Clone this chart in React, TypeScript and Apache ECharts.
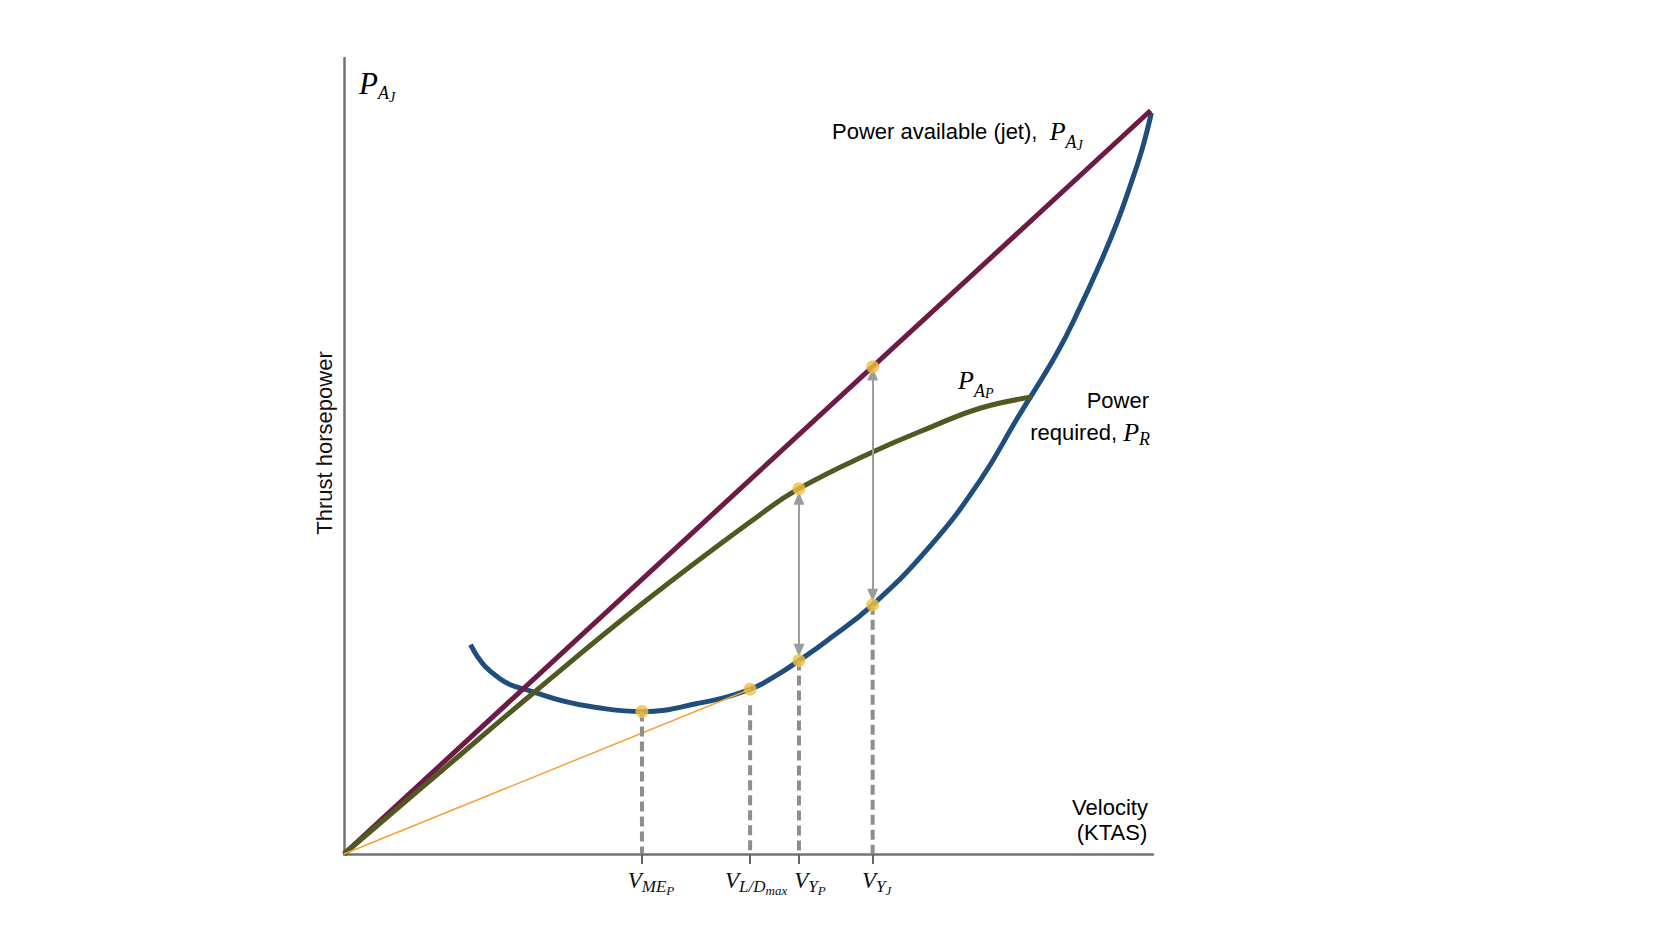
import React, { useEffect, useRef } from 'react';
import * as echarts from 'echarts';

const SERIF = '"Liberation Serif", "Times New Roman", serif';
const SANS = '"Liberation Sans", Arial, Helvetica, sans-serif';
const INK = '#111111';

// Velocity (x) and thrust horsepower (y), relative units
const powerAvailableJet: number[][] = [[0, 0], [100.7, 93.4]];
const powerAvailableProp: number[][] = [
  [0, 0], [12, 10.3], [23.6, 20.2], [37.8, 31.9], [51.9, 42.6],
  [56.8, 45.9], [66.0, 50.5], [73.2, 53.6], [79.4, 56.0], [85.9, 57.4],
];
const powerRequired: number[][] = [
  [15.8, 26.3], [16.6, 24.9], [17.6, 23.6], [19.1, 22.3], [20.7, 21.3],
  [23.2, 20.5], [27.4, 19.2], [31.5, 18.4], [37.2, 17.9], [44.1, 18.9],
  [50.7, 20.7], [54.4, 22.7], [56.8, 24.3], [60.3, 26.8], [66.0, 31.3],
  [73.2, 38.7], [79.4, 46.9], [84.1, 54.8], [89.0, 62.9], [91.9, 68.7],
  [94.4, 74.2], [96.5, 79.3], [98.1, 83.8], [99.6, 88.4], [100.8, 93.1],
];
const tangentLine: number[][] = [[0, 0], [50.7, 20.7]];
const keySpeeds: number[] = [37.2, 50.7, 56.8, 66.0];
const keySpeedLabels: string[] = [
  '{v0|V}{s1|ME}{s2|P}',
  '{v1|V}{s1|L/D}{s2|max}',
  '{v2|V}{s1|Y}{s2|P}',
  '{v3|V}{s1|Y}{s2|J}',
];
const dashTops: number[] = [17.9, 18.7, 24.3, 31.3];
const markedPoints: number[][] = [
  [37.2, 17.9], [50.7, 20.7], [56.8, 24.3], [56.8, 45.9], [66.0, 31.3], [66.0, 61.2],
];
// [x, top tip, bottom tip]
const arrowSpans: number[][] = [[56.8, 44.7, 25.6], [66.0, 60.3, 32.5]];

function tok(size: number, baseline: number, family: string = SERIF, italic = true, padLeft = 0) {
  const central = family === SERIF ? 0.3375 : 0.3465;
  const pad = baseline - (central * size + size / 2);
  return {
    fontSize: size,
    lineHeight: size,
    fontFamily: family,
    fontStyle: italic ? 'italic' : 'normal',
    color: INK,
    verticalAlign: 'top',
    padding: [Math.max(0, pad), 0, 0, padLeft],
  };
}

function textEl(x: number, y: number, text: string, rich: any, align: string, rotation = 0) {
  return {
    type: 'text',
    x,
    y,
    rotation,
    silent: true,
    style: {
      text,
      rich,
      align,
      textAlign: align,
      verticalAlign: 'top',
      textVerticalAlign: 'top',
    },
  };
}

export default function App() {
  const ref = useRef<HTMLDivElement>(null);

  useEffect(() => {
    if (!ref.current) return;
    const chart = echarts.init(ref.current, null, { renderer: 'svg' });

    const tickRich = {
      v0: tok(23, 18.8, SERIF, true, 18),
      v1: tok(23, 18.8, SERIF, true, 12),
      v2: tok(23, 18.8, SERIF, true, 22),
      v3: tok(23, 18.8, SERIF, true, 8),
      s1: tok(17, 23.5),
      s2: tok(13, 25.5),
    };

    const axisLineStyle = { color: '#727272', width: 2.5 };

    const dashedSeries = keySpeeds.map((x, i) => ({
      type: 'line',
      data: [[x, dashTops[i]], [x, 0]],
      symbol: 'none',
      clip: false,
      z: 3,
      lineStyle: { color: '#8e8e8e', width: 4, type: [10, 5] },
      silent: true,
    }));

    const option: any = {
      animation: false,
      backgroundColor: '#ffffff',
      grid: { left: 344, right: 506, top: 58, bottom: 79 },
      xAxis: {
        type: 'value',
        min: 0,
        max: 101,
        axisLine: { show: true, onZero: false, lineStyle: axisLineStyle },
        splitLine: { show: false },
        axisTick: {
          show: true,
          customValues: keySpeeds,
          length: 10,
          lineStyle: { color: '#666666', width: 2 },
        },
        axisLabel: {
          show: true,
          customValues: keySpeeds,
          margin: 15,
          formatter: (value: number) => {
            const i = keySpeeds.findIndex((k) => Math.abs(k - value) < 1e-6);
            return i >= 0 ? keySpeedLabels[i] : '';
          },
          rich: tickRich,
        },
      },
      yAxis: {
        type: 'value',
        min: 0,
        max: 100,
        axisLine: { show: true, onZero: false, lineStyle: axisLineStyle },
        splitLine: { show: false },
        axisTick: { show: false },
        axisLabel: { show: false },
      },
      series: [
        {
          name: 'Power required',
          type: 'line',
          data: powerRequired,
          smooth: 0.45,
          symbol: 'none',
          clip: false,
          z: 2,
          lineStyle: { color: '#1f4e7d', width: 5 },
        },
        {
          name: 'Power available (jet)',
          type: 'line',
          data: powerAvailableJet,
          symbol: 'none',
          clip: false,
          z: 2,
          lineStyle: { color: '#6d1b45', width: 5 },
        },
        {
          name: 'Power available (prop)',
          type: 'line',
          data: powerAvailableProp,
          smooth: 0.45,
          symbol: 'none',
          clip: false,
          z: 2,
          lineStyle: { color: '#4f5a20', width: 5 },
        },
        {
          name: 'Tangent',
          type: 'line',
          data: tangentLine,
          symbol: 'none',
          clip: false,
          z: 2,
          lineStyle: { color: '#f4a23a', width: 1.5 },
        },
        ...dashedSeries,
        {
          name: 'Arrows',
          type: 'line',
          data: [],
          z: 3,
          markLine: {
            silent: true,
            symbol: ['triangle', 'triangle'],
            symbolSize: [11, 13],
            label: { show: false },
            lineStyle: { color: '#9c9c9c', width: 2, type: 'solid' },
            emphasis: { disabled: true },
            data: arrowSpans.map(([x, y1, y2]) => [{ coord: [x, y1] }, { coord: [x, y2] }]),
          },
        },
        {
          name: 'Points',
          type: 'scatter',
          data: markedPoints,
          symbol: 'circle',
          symbolSize: 13,
          clip: false,
          z: 5,
          itemStyle: { color: '#f1c042' },
        },
      ],
      graphic: [
        textEl(359, 68, '{P|P}{A|A}{J|J}', {
          P: tok(31, 25.5), A: tok(18, 31.5), J: tok(14, 34.5),
        }, 'left'),
        textEl(832, 118, '{t|Power available (jet),  }{P|P}{A|A}{J|J}', {
          t: tok(22, 20.9, SANS, false), P: tok(26, 21.2), A: tok(18, 30), J: tok(14, 32.5),
        }, 'left'),
        textEl(958, 367, '{P|P}{A|A}{p|P}', {
          P: tok(26, 21.2), A: tok(18, 30), p: tok(14, 31.5),
        }, 'left'),
        textEl(1149, 387, '{t|Power}', { t: tok(22, 20.9, SANS, false) }, 'right'),
        textEl(1150, 419, '{t|required, }{P|P}{R|R}', {
          t: tok(22, 20.9, SANS, false), P: tok(26, 21.2), R: tok(18, 26.2),
        }, 'right'),
        textEl(1110, 794, '{t|Velocity}', { t: tok(22, 20.9, SANS, false) }, 'center'),
        textEl(1112, 819, '{t|(KTAS)}', { t: tok(22, 20.9, SANS, false) }, 'center'),
        {
          type: 'text',
          x: 324,
          y: 443,
          rotation: Math.PI / 2,
          silent: true,
          style: {
            text: 'Thrust horsepower',
            fontSize: 22,
            fontFamily: SANS,
            fill: INK,
            align: 'center',
            textAlign: 'center',
            verticalAlign: 'middle',
            textVerticalAlign: 'middle',
          },
        },
      ],
    };

    chart.setOption(option);
    const onResize = () => chart.resize();
    window.addEventListener('resize', onResize);
    return () => {
      window.removeEventListener('resize', onResize);
      chart.dispose();
    };
  }, []);

  return (
    <div
      ref={ref}
      style={{ position: 'fixed', left: 0, top: 0, width: '100vw', height: '100vh', background: '#fff' }}
    />
  );
}
